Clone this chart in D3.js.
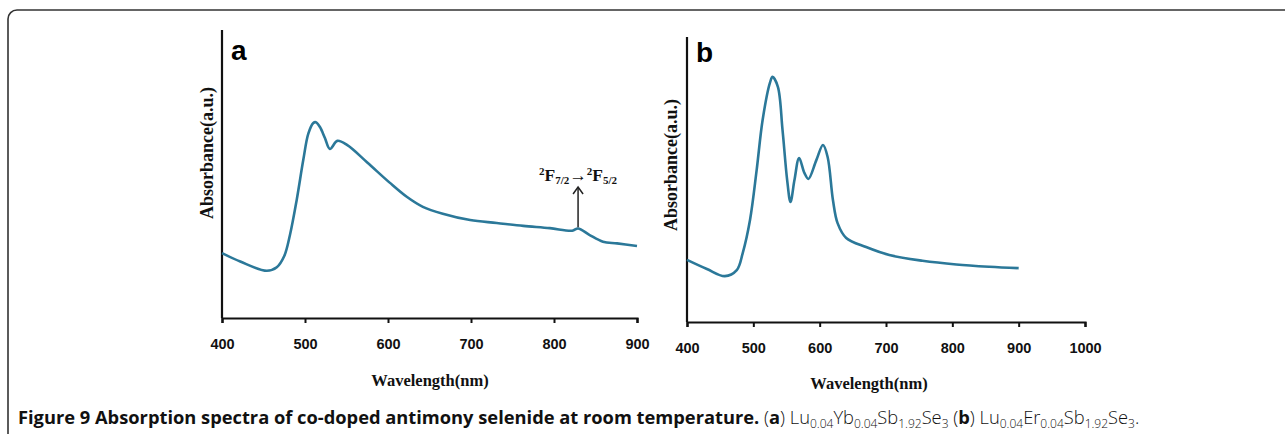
<!DOCTYPE html>
<html>
<head>
<meta charset="utf-8">
<script src="https://cdn.jsdelivr.net/npm/d3@7"></script>
<style>
  body { margin: 0; background: #fff; }
  svg { display: block; }
</style>
</head>
<body>
<svg id="fig" width="1285" height="434"></svg>
<script>
// panel a: Lu0.04Yb0.04Sb1.92Se3
const wavelengthA = [400, 422, 454, 466, 475, 482, 490, 498, 504, 510, 513, 518, 524, 530, 539, 551, 575, 602, 623, 642, 666, 699, 731, 763, 795, 822, 829, 843, 859, 876, 900]
const absorbA = [22.5, 19.6, 16.4, 17.6, 21.5, 29, 41, 55, 64, 67.7, 68, 66.3, 62.5, 58.7, 61.5, 60, 54, 47, 42, 38.6, 36.2, 34, 33, 32, 31.2, 30.3, 31.1, 28.8, 26.5, 25.9, 25]

// panel b: Lu0.04Er0.04Sb1.92Se3
const wavelengthB = [400, 430, 457, 475, 484, 495, 505, 514, 525, 529, 537, 544, 551, 556, 562, 569, 577, 583, 595, 605, 612, 620, 627, 640, 670, 705, 755, 806, 856, 900]
const absorbB = [21.8, 18.6, 16.1, 18.2, 24.2, 35.8, 53.3, 70.9, 83.9, 86, 82.5, 67.4, 49.8, 42.1, 49.8, 57.5, 52.3, 50.2, 56.8, 62.1, 57.9, 42.8, 34.7, 29.5, 26.3, 23.5, 21.5, 20.2, 19.4, 18.9]

const ticksA = [400, 500, 600, 700, 800, 900]
const ticksB = [400, 500, 600, 700, 800, 900, 1000]

const lineColor = '#2b7899'
const svg = d3.select('#fig')

// frame
svg.append('rect')
  .attr('x', 8).attr('y', 10)
  .attr('width', 1320).attr('height', 440)
  .attr('rx', 9)
  .attr('fill', 'none')
  .attr('stroke', '#333')
  .attr('stroke-width', 1.6)

function panel(opts) {
  const x = d3.scaleLinear().domain(opts.xDomain).range(opts.xRange)
  const y = d3.scaleLinear().domain([0, 100]).range(opts.yRange)
  const g = svg.append('g')

  const xAxis = d3.axisBottom(x)
    .tickValues(opts.ticks)
    .tickSize(5)
    .tickFormat(d3.format('d'))

  const ax = g.append('g')
    .attr('transform', 'translate(0,' + opts.yRange[0] + ')')
    .call(xAxis)
  ax.select('.domain').attr('stroke', '#111').attr('stroke-width', 2.2)
  ax.selectAll('.tick line').attr('stroke', '#111').attr('stroke-width', 2)
  ax.selectAll('.tick text')
    .attr('y', 21)
    .attr('font-family', 'Liberation Sans, Arial, sans-serif')
    .attr('font-weight', 'bold')
    .attr('font-size', 14.5)
    .attr('fill', '#111')

  g.append('line')
    .attr('x1', opts.xRange[0]).attr('x2', opts.xRange[0])
    .attr('y1', opts.yRange[0]).attr('y2', opts.yRange[1])
    .attr('stroke', '#111')
    .attr('stroke-width', 2.2)

  const line = d3.line()
    .x(d => x(d[0]))
    .y(d => y(d[1]))
    .curve(d3.curveCatmullRom.alpha(0.5))

  g.append('path')
    .datum(d3.zip(opts.wl, opts.ab))
    .attr('d', line)
    .attr('fill', 'none')
    .attr('stroke', lineColor)
    .attr('stroke-width', 2.6)
    .attr('stroke-linejoin', 'round')

  // panel letter
  g.append('text')
    .attr('x', opts.xRange[0] + 9)
    .attr('y', opts.letterY)
    .attr('font-family', 'Liberation Sans, Arial, sans-serif')
    .attr('font-weight', 'bold')
    .attr('font-size', 28)
    .text(opts.letter)

  // y label
  g.append('text')
    .attr('transform', 'translate(' + opts.yLabelX + ',' + opts.yLabelY + ') rotate(-90)')
    .attr('text-anchor', 'middle')
    .attr('font-family', 'Liberation Serif, Times New Roman, serif')
    .attr('font-weight', 'bold')
    .attr('font-size', 18)
    .attr('fill', '#111')
    .text('Absorbance(a.u.)')

  // x label
  g.append('text')
    .attr('x', opts.xLabelX)
    .attr('y', opts.xLabelY)
    .attr('text-anchor', 'middle')
    .attr('font-family', 'Liberation Serif, Times New Roman, serif')
    .attr('font-weight', 'bold')
    .attr('font-size', 16.5)
    .attr('fill', '#111')
    .text('Wavelength(nm)')

  return { x, y, g }
}

const pa = panel({
  xDomain: [400, 900], xRange: [222, 637], yRange: [318, 30],
  ticks: ticksA, wl: wavelengthA, ab: absorbA,
  letter: 'a', letterY: 60,
  yLabelX: 213, yLabelY: 153,
  xLabelX: 430, xLabelY: 386
})

const pb = panel({
  xDomain: [400, 1000], xRange: [687, 1085], yRange: [322, 37],
  ticks: ticksB, wl: wavelengthB, ab: absorbB,
  letter: 'b', letterY: 62,
  yLabelX: 677, yLabelY: 165,
  xLabelX: 869, xLabelY: 389
})

// transition annotation in panel a
const annX = pa.x(829)
const annY0 = pa.y(31.5)
const annY1 = pa.y(45.5)
pa.g.append('line')
  .attr('x1', annX).attr('x2', annX)
  .attr('y1', annY0).attr('y2', annY1)
  .attr('stroke', '#222').attr('stroke-width', 1.5)
pa.g.append('path')
  .attr('d', 'M' + (annX - 5) + ',' + (annY1 + 7) + 'L' + annX + ',' + annY1 + 'L' + (annX + 5) + ',' + (annY1 + 7))
  .attr('fill', 'none').attr('stroke', '#222').attr('stroke-width', 1.5)

const ann = pa.g.append('text')
  .attr('x', annX)
  .attr('y', annY1 - 6)
  .attr('text-anchor', 'middle')
  .attr('font-family', 'Liberation Serif, Times New Roman, serif')
  .attr('font-weight', 'bold')
  .attr('font-size', 17.5)
  .attr('fill', '#111')
ann.append('tspan').attr('font-size', 11).attr('dy', -6).text('2')
ann.append('tspan').attr('dy', 6).text('F')
ann.append('tspan').attr('font-size', 11).attr('dy', 3).text('7/2')
ann.append('tspan').attr('dy', -3).attr('font-weight', 'normal').text('\u2192')
ann.append('tspan').attr('font-size', 11).attr('dy', -6).text('2')
ann.append('tspan').attr('dy', 6).text('F')
ann.append('tspan').attr('font-size', 11).attr('dy', 3).text('5/2')

// caption
const cap = svg.append('text')
  .attr('x', 18)
  .attr('y', 424)
  .attr('font-family', 'Open Sans, Noto Sans, sans-serif')
  .attr('font-size', 18.3)
  .attr('fill', '#111')

cap.append('tspan').attr('font-weight', 'bold').text('Figure 9 Absorption spectra of co-doped antimony selenide at room temperature.')
cap.append('tspan').attr('font-weight', 300).text(' (')
cap.append('tspan').attr('font-weight', 'bold').text('a')
cap.append('tspan').attr('font-weight', 300).text(') Lu')
const sub = (t) => cap.append('tspan').attr('font-weight', 300).attr('font-size', 12).attr('dy', 3.5).text(t)
const norm = (t) => cap.append('tspan').attr('font-weight', 300).attr('dy', -3.5).text(t)
sub('0.04'); norm('Yb'); sub('0.04'); norm('Sb'); sub('1.92'); norm('Se'); sub('3')
cap.append('tspan').attr('font-weight', 300).attr('dy', -3.5).text(' (')
cap.append('tspan').attr('font-weight', 'bold').text('b')
cap.append('tspan').attr('font-weight', 300).text(') Lu')
sub('0.04'); norm('Er'); sub('0.04'); norm('Sb'); sub('1.92'); norm('Se'); sub('3')
cap.append('tspan').attr('font-weight', 300).attr('dy', -3.5).text('.')
</script>
</body>
</html>
